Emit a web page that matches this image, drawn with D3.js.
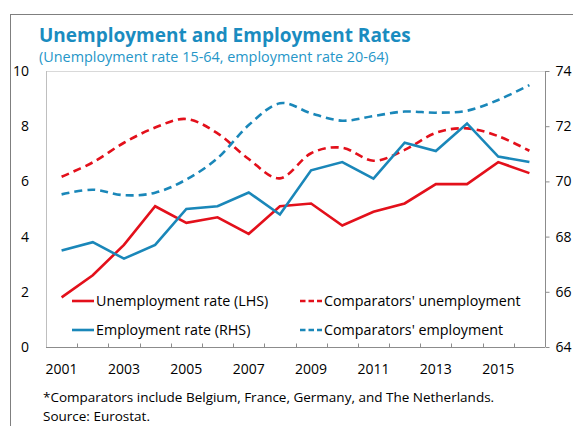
<!DOCTYPE html>
<html>
<head>
<meta charset="utf-8">
<script src="https://cdn.jsdelivr.net/npm/d3@7"></script>
<style>
  body { margin: 0; background: #fff; }
  svg { display: block; font-family: "Open Sans", sans-serif; }
</style>
</head>
<body>
<div id="chart"></div>
<script>
const years = d3.range(2001, 2017).map(String);
const unemployment = [1.8, 2.6, 3.7, 5.1, 4.5, 4.7, 4.1, 5.1, 5.2, 4.4, 4.9, 5.2, 5.9, 5.9, 6.7, 6.3];
const compUnemployment = [6.17, 6.69, 7.4, 7.95, 8.26, 7.74, 6.81, 6.11, 7.02, 7.22, 6.75, 7.14, 7.76, 7.92, 7.64, 7.11];
const employment = [67.5, 67.8, 67.2, 67.7, 69.0, 69.1, 69.6, 68.8, 70.4, 70.7, 70.1, 71.4, 71.1, 72.1, 70.9, 70.7];
const compEmployment = [69.53, 69.7, 69.5, 69.59, 70.07, 70.84, 72.04, 72.83, 72.47, 72.2, 72.37, 72.53, 72.49, 72.56, 72.95, 73.49];
const leftTicks = [0, 2, 4, 6, 8, 10];
const rightTicks = [64, 66, 68, 70, 72, 74];

const red = "#e3101b";
const blue = "#1a87b9";

const width = 573, height = 426;
const area = { left: 46, right: 545, top: 71, bottom: 347 };

const svg = d3.select("#chart").append("svg")
  .attr("width", width)
  .attr("height", height);

// outer frame
svg.append("rect")
  .attr("x", 10.5).attr("y", 14.5)
  .attr("width", 700).attr("height", 600)
  .attr("fill", "none")
  .attr("stroke", "#7f7f7f");

svg.append("text")
  .attr("x", 39).attr("y", 42)
  .attr("fill", "#1a8cc0")
  .attr("font-size", 19)
  .attr("font-weight", "bold")
  .text("Unemployment and Employment Rates");

svg.append("text")
  .attr("x", 39).attr("y", 62)
  .attr("fill", "#2596c8")
  .attr("font-size", 14.4)
  .text("(Unemployment rate 15-64, employment rate 20-64)");

const x = d3.scaleBand().domain(years).range([area.left, area.right]);
const cx = (d) => x(d) + x.bandwidth() / 2;
const yL = d3.scaleLinear().domain([0, 10]).range([area.bottom, area.top]);
const yR = d3.scaleLinear().domain([64, 74]).range([area.bottom, area.top]);

// plot area border
svg.append("line")
  .attr("x1", area.left).attr("x2", area.right)
  .attr("y1", area.top + 0.5).attr("y2", area.top + 0.5)
  .attr("stroke", "#d9d9d9");
svg.append("line")
  .attr("x1", area.left + 0.5).attr("x2", area.left + 0.5)
  .attr("y1", area.top).attr("y2", area.bottom)
  .attr("stroke", "#bfbfbf");

// left axis
const gL = svg.append("g")
  .attr("transform", `translate(${area.left},0)`)
  .call(d3.axisLeft(yL).tickValues(leftTicks).tickSize(0).tickPadding(17));
gL.select(".domain").remove();
gL.selectAll("text").attr("font-size", 14).attr("fill", "#000").attr("font-family", "Open Sans");

// right axis
const gR = svg.append("g")
  .attr("transform", `translate(${area.right + 0.5},0)`)
  .call(d3.axisRight(yR).tickValues(rightTicks).tickSize(4).tickPadding(6));
gR.select(".domain").attr("stroke", "#8c8c8c").attr("d", `M0,${area.top}V${area.bottom}`);
gR.selectAll("line").attr("stroke", "#8c8c8c");
gR.selectAll("text").attr("font-size", 14).attr("fill", "#000").attr("font-family", "Open Sans");

// bottom axis
const gB = svg.append("g")
  .attr("transform", `translate(0,${area.bottom + 0.5})`)
  .call(d3.axisBottom(x)
    .tickSize(0)
    .tickPadding(17)
    .tickFormat((d) => (+d % 2 === 1 ? d : "")));
gB.select(".domain").attr("stroke", "#8c8c8c").attr("d", `M${area.left},0H${area.right}`);
gB.selectAll("text").attr("font-size", 14).attr("fill", "#000").attr("font-family", "Open Sans");
gB.selectAll(".boundary")
  .data(years.slice(1))
  .join("line")
  .attr("class", "boundary")
  .attr("x1", (d) => Math.round(x(d)) + 0.5)
  .attr("x2", (d) => Math.round(x(d)) + 0.5)
  .attr("y1", 0).attr("y2", -4)
  .attr("stroke", "#8c8c8c");

// series
const series = [
  { name: "Unemployment rate (LHS)", values: unemployment, y: yL, color: red, dashed: false },
  { name: "Comparators' unemployment", values: compUnemployment, y: yL, color: red, dashed: true },
  { name: "Employment rate (RHS)", values: employment, y: yR, color: blue, dashed: false },
  { name: "Comparators' employment", values: compEmployment, y: yR, color: blue, dashed: true },
];

series.forEach((s) => {
  const line = d3.line()
    .x((d, i) => cx(years[i]))
    .y((d) => s.y(d))
    .curve(s.dashed ? d3.curveCardinal.tension(0) : d3.curveLinear);
  svg.append("path")
    .datum(s.values)
    .attr("d", line)
    .attr("fill", "none")
    .attr("stroke", s.color)
    .attr("stroke-width", 2.6)
    .attr("stroke-dasharray", s.dashed ? "8,5" : null);
});

// legend
const legendPos = [
  { x: 72, y: 301 },
  { x: 300, y: 301 },
  { x: 72, y: 330 },
  { x: 300, y: 330 },
];
series.forEach((s, i) => {
  const p = legendPos[i];
  const g = svg.append("g").attr("transform", `translate(${p.x},${p.y})`);
  g.append("line")
    .attr("x1", 0).attr("x2", 22)
    .attr("stroke", s.color)
    .attr("stroke-width", 2.6)
    .attr("stroke-dasharray", s.dashed ? "5.5,3" : null);
  g.append("text")
    .attr("x", 24).attr("dy", "0.35em")
    .attr("font-size", 14.3)
    .text(s.name);
});

// footnotes
svg.append("text")
  .attr("x", 43).attr("y", 402)
  .attr("font-size", 13.5)
  .text("*Comparators include Belgium, France, Germany, and The Netherlands.");
svg.append("text")
  .attr("x", 43).attr("y", 421)
  .attr("font-size", 13.5)
  .text("Source: Eurostat.");
</script>
</body>
</html>
